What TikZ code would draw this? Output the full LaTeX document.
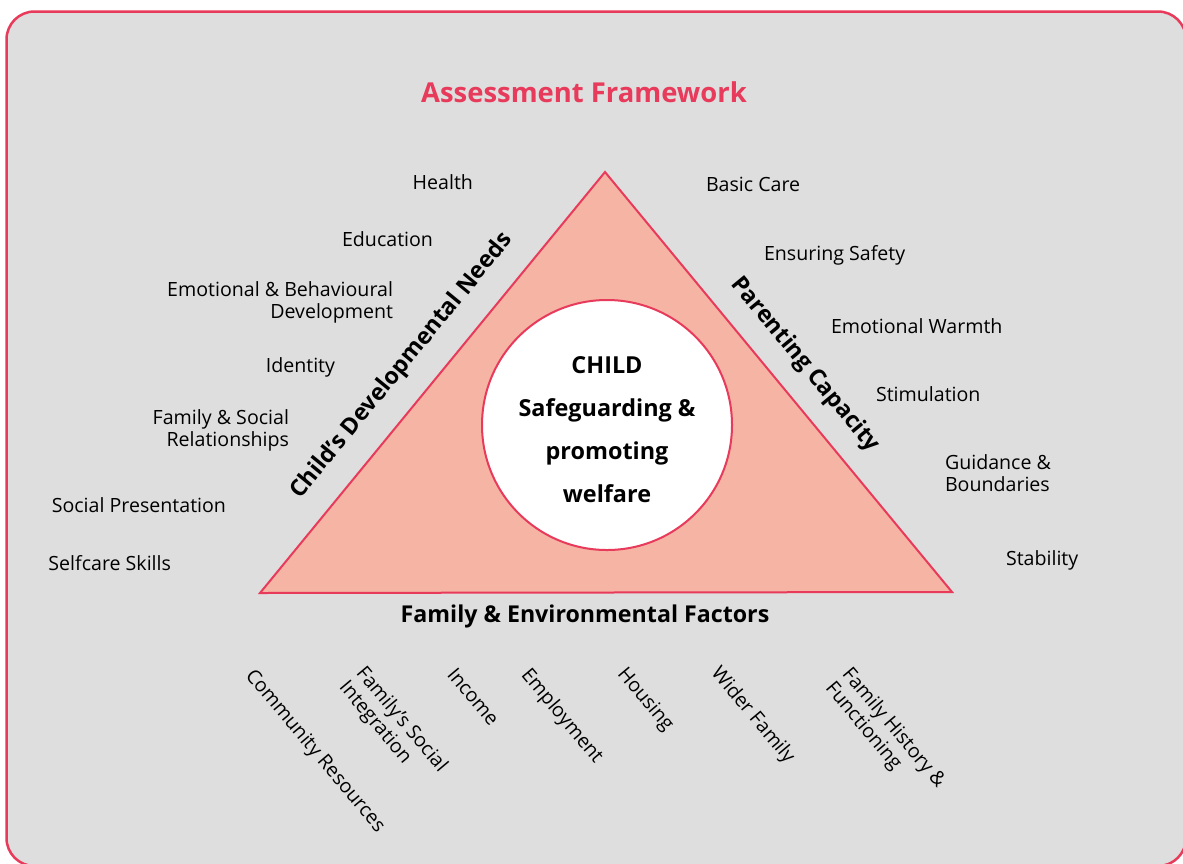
\documentclass[tikz,border=0pt]{standalone}
\usepackage{fontspec}
\setmainfont{Open Sans}
\usepackage{tikz}

\begin{document}
\begin{tikzpicture}[x=1pt,y=-1pt,
  item/.style={inner sep=0, outer sep=0, font=\fontsize{19.6pt}{22pt}\selectfont},
  leftitem/.style={item, anchor=east, align=right},
  rightitem/.style={item, anchor=west, align=left},
  downitem/.style={item, anchor=north west, align=left, rotate=-50},
  sidelabel/.style={inner sep=0, outer sep=0, font=\fontsize{23.2pt}{26pt}\selectfont\bfseries},
  centretext/.style={inner sep=0, align=center, font=\fontsize{23.4pt}{43pt}\selectfont\bfseries}]
  \definecolor{custcol_frame}{RGB}{232, 58, 90}
  \definecolor{custcol_back}{RGB}{222, 222, 222}
  \definecolor{custcol_tri}{RGB}{245, 180, 164}
  \useasboundingbox (0,0) rectangle (1183,863);
  \fill [white] (0,0) rectangle (1183,863);
  \clip (0,0) rectangle (1183,863);
  % frame
  \draw [line width=2.5pt, custcol_frame, fill=custcol_back, rounded corners=28pt] (6.5,11.5) rectangle (1186,866);
  \node [inner sep=0, custcol_frame, font=\fontsize{27.4pt}{30pt}\selectfont\bfseries] (title) at (584,92) {Assessment Framework};
  % triangle and circle
  \coordinate (apex) at (605,172);
  \coordinate (left) at (260,593);
  \coordinate (right) at (952,592);
  \draw [line width=2pt, custcol_frame, fill=custcol_tri, line join=miter] (apex) -- (right) -- (left) -- cycle;
  \node [circle, draw=custcol_frame, line width=2pt, fill=white, minimum size=250pt] (child) at (607,425) {};
  \node [centretext] (childtext) at (607,430) {CHILD\\Safeguarding \&\\promoting\\welfare};
  % side labels
  \node [sidelabel, rotate=50.7] (needs) at (402,366) {Child's Developmental Needs};
  \node [sidelabel, rotate=-50.4] (parenting) at (805,365) {Parenting Capacity};
  \node [sidelabel] (family) at (585,616) {Family \& Environmental Factors};
  % child's developmental needs
  \node [leftitem] (health) at (473,182) {Health};
  \node [leftitem] (education) at (433,239) {Education};
  \node [leftitem] (emotional) at (393,302) {Emotional \& Behavioural\\Development};
  \node [leftitem] (identity) at (335,367) {Identity};
  \node [leftitem] (relations) at (289,430) {Family \& Social\\Relationships};
  \node [leftitem] (presentation) at (226,505) {Social Presentation};
  \node [leftitem] (selfcare) at (171,563) {Selfcare Skills};
  % parenting capacity
  \node [rightitem] (basic) at (706,184) {Basic Care};
  \node [rightitem] (safety) at (764,255) {Ensuring Safety};
  \node [rightitem] (warmth) at (831,326) {Emotional Warmth};
  \node [rightitem] (stimulation) at (876,394) {Stimulation};
  \node [rightitem] (guidance) at (945,473) {Guidance \&\\Boundaries};
  \node [rightitem] (stability) at (1006,560) {Stability};
  % family and environmental factors
  \node [downitem] (community) at (256,667) {Community Resources};
  \node [downitem] (integration) at (367,664) {Family's Social\\Integration};
  \node [downitem] (income) at (457,666) {Income};
  \node [downitem] (employment) at (532,666) {Employment};
  \node [downitem] (housing) at (628,665) {Housing};
  \node [downitem] (wider) at (722,664) {Wider Family};
  \node [downitem] (history) at (853,665) {Family History \&\\Functioning};
\end{tikzpicture}
\end{document}
